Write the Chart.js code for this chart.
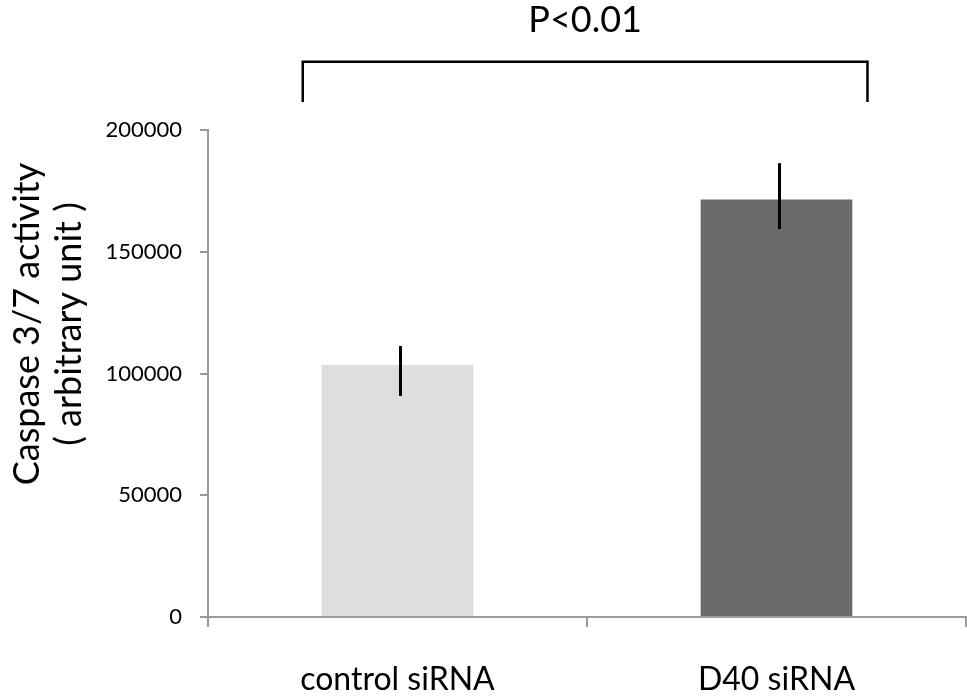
<!DOCTYPE html>
<html>
<head>
<meta charset="utf-8">
<script src="https://cdn.jsdelivr.net/npm/chart.js@4"></script>
<style>
  html, body { margin: 0; padding: 0; background: #fff; }
  #wrap { width: 967px; height: 699px; }
</style>
</head>
<body>
<div id="wrap"><canvas id="Chart1"></canvas></div>
<script>
// data
const categories = ['control siRNA', 'D40 siRNA'];
const activity = [103500, 171500];
const errHigh = [111300, 186400];
const errLow = [90800, 159300];
const barColors = ['#dedede', '#6a6a6a'];
const yTicks = [0, 50000, 100000, 150000, 200000];
const pLabel = 'P<0.01';
const yTitle = ['Caspase 3/7 activity', '( arbitrary unit )'];

const FONT = 'Lato, "Open Sans", sans-serif';

// error bars, significance bracket and y title
const extras = {
    id: 'extras',
    afterDatasetsDraw(chart){
        const ctx = chart.ctx;
        const x = chart.scales.x;
        const y = chart.scales.y;
        ctx.save();
        ctx.strokeStyle = '#000';
        ctx.lineWidth = 3;
        activity.forEach((v, i) => {
            const px = x.getPixelForValue(i) + 3;
            ctx.beginPath();
            ctx.moveTo(px, y.getPixelForValue(errHigh[i]));
            ctx.lineTo(px, y.getPixelForValue(errLow[i]));
            ctx.stroke();
        });

        // bracket
        const xl = x.getPixelForValue(-0.25);
        const xr = x.getPixelForValue(1.24);
        const yTop = y.getPixelForValue(228000);
        const yEnd = y.getPixelForValue(211500);
        ctx.lineWidth = 2.5;
        ctx.beginPath();
        ctx.moveTo(xl, yEnd);
        ctx.lineTo(xl, yTop);
        ctx.lineTo(xr, yTop);
        ctx.lineTo(xr, yEnd);
        ctx.stroke();

        ctx.fillStyle = '#000';
        ctx.font = '36px ' + FONT;
        ctx.textAlign = 'center';
        ctx.textBaseline = 'middle';
        ctx.fillText(pLabel, (xl + xr) / 2, y.getPixelForValue(245000));

        // y title, two lines
        ctx.translate(48, 324);
        ctx.rotate(-Math.PI / 2);
        ctx.font = '36px ' + FONT;
        ctx.fillText(yTitle[0], 0, -21);
        ctx.fillText(yTitle[1], 0, 21);
        ctx.restore();
    }
};

function loadChart(){
    const ctx1 = document.getElementById('Chart1');
    const data1 = {
        labels: categories,
        datasets: [{
            data: activity,
            backgroundColor: barColors,
            borderWidth: 0,
            barPercentage: 0.4,
            categoryPercentage: 1.0
        }]
    };
    const config1 = {
        type: 'bar',
        data: data1,
        plugins: [extras],
        options: {
            responsive: true,
            maintainAspectRatio: false,
            animation: false,
            layout: { padding: { top: 130, right: 1, left: 0, bottom: 0 } },
            plugins: {
                legend: { display: false },
                tooltip: { enabled: false }
            },
            scales: {
                x: {
                    grid: {
                        display: true,
                        drawOnChartArea: false,
                        color: '#9a9a9a',
                        lineWidth: 2,
                        tickLength: 10
                    },
                    border: { color: '#9a9a9a', width: 2 },
                    ticks: {
                        color: '#000',
                        font: { family: FONT, size: 32 },
                        padding: 33
                    },
                    afterFit(scale){ scale.height = 82; }
                },
                y: {
                    min: 0,
                    max: 200000,
                    afterBuildTicks(scale){
                        scale.ticks = yTicks.map(v => ({ value: v }));
                    },
                    grid: {
                        display: true,
                        drawOnChartArea: false,
                        color: '#9a9a9a',
                        lineWidth: 2,
                        tickLength: 8
                    },
                    border: { color: '#9a9a9a', width: 2 },
                    ticks: {
                        color: '#000',
                        font: { family: FONT, size: 22 },
                        padding: 18,
                        callback: v => String(v)
                    },
                    afterFit(scale){ scale.width = 208; }
                }
            }
        }
    };
    new Chart(ctx1, config1);
}

document.addEventListener('DOMContentLoaded', function(){
    loadChart();
});
</script>
</body>
</html>
